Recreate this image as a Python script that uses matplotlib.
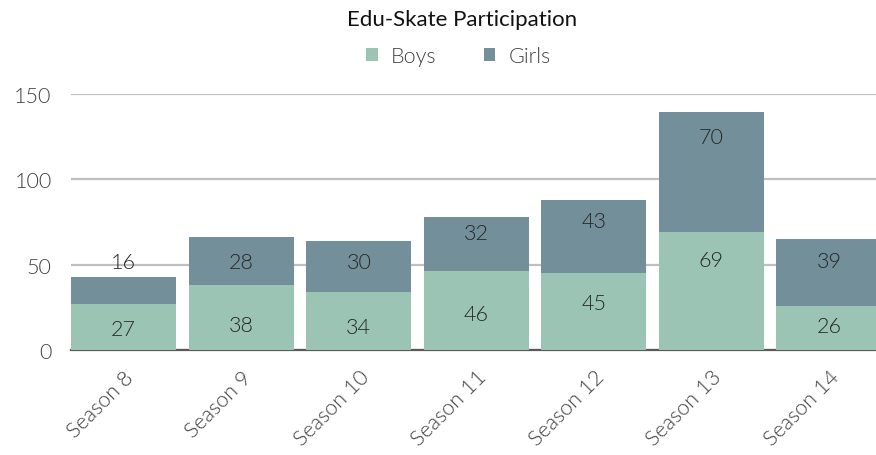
import matplotlib
matplotlib.use("Agg")
import matplotlib.pyplot as plt
from matplotlib.patches import Patch

categories = ["Season 8", "Season 9", "Season 10", "Season 11", "Season 12", "Season 13", "Season 14"]
boys = [27, 38, 34, 46, 45, 69, 26]
girls = [16, 28, 30, 32, 43, 70, 39]

# label placement (value-axis units), as positioned in the reference
boys_label_y = [12.3, 14.6, 13.6, 21.1, 27.5, 52.5, 14.1]
girls_label_y = [51.4, 51.5, 51.5, 68.5, 75.4, 124.6, 52.1]

BOYS_C = "#9BC4B4"
GIRLS_C = "#738F99"
TEXT_C = "#262626"
TICK_C = "#404040"
W = 300

plt.rcParams['font.family'] = ['Lato', 'DejaVu Sans']

fig = plt.figure(figsize=(8.76, 4.56), dpi=100)
ax = fig.add_axes([71/876, 1-351/456, 1-71/876, (351-94.7)/456])

x = list(range(len(categories)))
ax.bar(x, boys, width=0.895, color=BOYS_C, zorder=2)
ax.bar(x, girls, width=0.895, bottom=boys, color=GIRLS_C, zorder=2)

for i in x:
    ax.text(i, boys_label_y[i], str(boys[i]), ha='center', va='center',
            fontsize=15.5, fontweight=W, color=TEXT_C, zorder=3)
    ax.text(i, girls_label_y[i], str(girls[i]), ha='center', va='center',
            fontsize=15.5, fontweight=W, color=TEXT_C, zorder=3)

ax.set_xlim(-0.448, 6.40)
ax.set_ylim(0, 150)
ax.set_yticks([0, 50, 100, 150])
ax.yaxis.grid(True, color="#BFBFBF", linewidth=1.6, zorder=0)
ax.set_axisbelow(True)
for s in ['top', 'right', 'left']:
    ax.spines[s].set_visible(False)
ax.spines['bottom'].set_color("#595959")
ax.spines['bottom'].set_linewidth(1.6)
ax.spines['bottom'].set_zorder(1)

ax.set_xticks(x)
ax.set_xticklabels(categories, rotation=45, ha='right', rotation_mode='anchor',
                   fontsize=15.5, fontweight=W, color=TICK_C)
ax.tick_params(axis='x', length=0, pad=12)
ax.tick_params(axis='y', length=0, pad=14, labelsize=15.5, labelcolor=TICK_C)
for lab in ax.get_yticklabels():
    lab.set_fontweight(W)

fig.text(0.527, 1-20/456, "Edu-Skate Participation", ha='center', va='center',
         fontsize=16, color="#111111")

handles = [Patch(facecolor=BOYS_C, label="Boys"), Patch(facecolor=GIRLS_C, label="Girls")]
leg = fig.legend(handles=handles, loc='center', bbox_to_anchor=(0.523, 1-57/456), ncol=2,
                 frameon=False, handlelength=0.55, handleheight=0.55, handletextpad=0.6,
                 columnspacing=2.2, prop={'family': 'Lato', 'weight': W, 'size': 15.5})
for t in leg.get_texts():
    t.set_color(TICK_C)

fig.savefig("out.png", dpi=100)
